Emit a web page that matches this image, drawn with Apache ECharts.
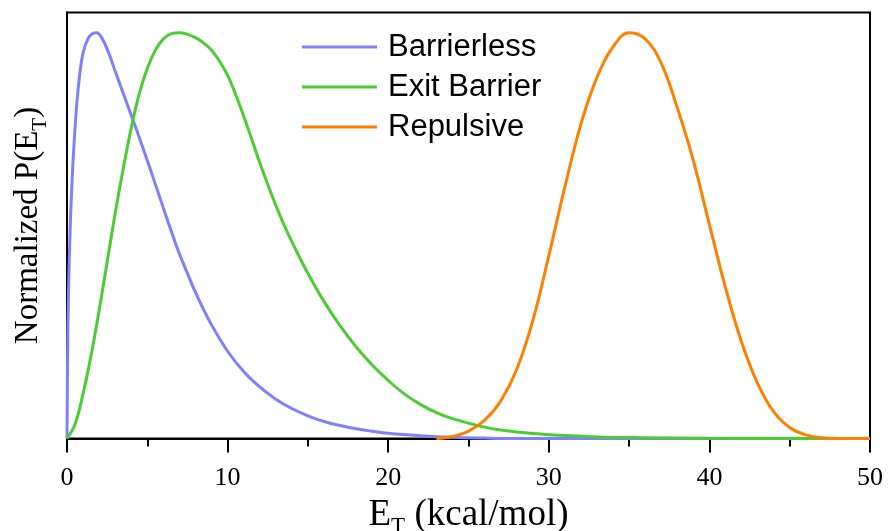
<!DOCTYPE html>
<html>
<head>
<meta charset="utf-8">
<script src="https://cdn.jsdelivr.net/npm/echarts@6/dist/echarts.min.js"></script>
<style>
  html, body { margin: 0; padding: 0; background: #fff; }
  #chart { width: 889px; height: 531px; }
</style>
</head>
<body>
<div id="chart"></div>
<script>
// Translational energy distributions, each normalized to a peak of 1.
var seriesNames = ['Barrierless', 'Exit Barrier', 'Repulsive'];

var barrierlessE = [0, 0.05, 0.1, 0.2, 0.3, 0.4, 0.6, 0.8, 1.0, 1.3, 1.6, 1.85, 2.2, 2.6, 3.0, 3.5, 4.0, 4.5, 5.0, 5.5, 6.0, 6.5, 7.0, 7.5, 8.0, 9.0, 10, 11, 12, 13, 14, 15, 16, 17, 18, 19, 20, 22, 24, 26, 28, 50];
var barrierlessP = [0, 0.25, 0.37, 0.52, 0.62, 0.70, 0.82, 0.90, 0.95, 0.985, 0.998, 1.0, 0.985, 0.95, 0.905, 0.851, 0.797, 0.742, 0.685, 0.627, 0.568, 0.51, 0.455, 0.407, 0.36, 0.28, 0.215, 0.165, 0.127, 0.097, 0.074, 0.056, 0.042, 0.032, 0.024, 0.018, 0.013, 0.007, 0.003, 0.001, 0, 0];

var exitE = [0, 0.5, 1.0, 1.5, 2.0, 2.5, 3.0, 3.5, 4.0, 4.5, 5.0, 5.5, 6.0, 6.5, 7.0, 7.5, 8.0, 8.5, 9.0, 9.5, 10, 10.5, 11, 11.5, 12, 12.5, 13, 13.5, 14, 14.5, 15, 16, 17, 18, 19, 20, 21, 22, 23, 24, 25, 26, 27, 28, 30, 33, 36, 40, 44, 50];
var exitP = [0, 0.035, 0.11, 0.205, 0.315, 0.435, 0.555, 0.665, 0.765, 0.85, 0.912, 0.957, 0.985, 0.998, 1.0, 0.996, 0.988, 0.975, 0.957, 0.93, 0.895, 0.848, 0.795, 0.738, 0.68, 0.626, 0.575, 0.528, 0.485, 0.445, 0.407, 0.338, 0.278, 0.226, 0.181, 0.143, 0.11, 0.084, 0.064, 0.049, 0.038, 0.028, 0.021, 0.016, 0.009, 0.004, 0.002, 0.0005, 0, 0];

var repulsiveE = [23, 24, 25, 26, 27, 28, 29, 30, 31, 32, 33, 34, 35, 36, 37, 38, 39, 40, 41, 42, 43, 44, 45, 46, 47, 48, 50];
var repulsiveP = [0, 0.005, 0.018, 0.045, 0.092, 0.17, 0.29, 0.45, 0.62, 0.775, 0.89, 0.965, 1.0, 0.985, 0.925, 0.815, 0.685, 0.527, 0.372, 0.238, 0.136, 0.066, 0.027, 0.009, 0.002, 0, 0];

var xTicks = [0, 10, 20, 30, 40, 50];

function pairs(xs, ys) {
  return xs.map(function (x, i) { return [x, ys[i]]; });
}

var colors = ['#8080ff', '#4ccc33', '#ff8000'];
var serif = 'Liberation Serif, Times New Roman, serif';
var sans = 'Liberation Sans, Arial, sans-serif';

var chart = echarts.init(document.getElementById('chart'), null, { renderer: 'canvas' });

function lineSeries(name, xs, ys, color) {
  return {
    name: name,
    type: 'line',
    data: pairs(xs, ys),
    smooth: 0.4,
    symbol: 'none',
    showSymbol: false,
    lineStyle: { color: color, width: 3 },
    itemStyle: { color: color },
    animation: false
  };
}

chart.setOption({
  animation: false,
  backgroundColor: '#ffffff',
  grid: {
    left: 67, right: 19, top: 12.5, bottom: 92.5,
    outerBoundsMode: 'none',
    containLabel: false,
    show: true, borderColor: '#000', borderWidth: 2, backgroundColor: 'transparent'
  },
  legend: {
    data: seriesNames,
    orient: 'vertical',
    left: 302,
    top: 27,
    padding: 0,
    itemGap: 0,
    icon: 'rect',
    itemWidth: 75,
    itemHeight: 3,
    textStyle: {
      fontFamily: sans, fontSize: 31, color: '#000', lineHeight: 40,
      padding: [0, 0, 0, 6]
    }
  },
  xAxis: {
    type: 'value',
    min: xTicks[0],
    max: xTicks[xTicks.length - 1],
    interval: 10,
    name: '{e|E}{t|T}{e| (kcal/mol)}',
    nameLocation: 'middle',
    nameGap: 56,
    nameTextStyle: {
      rich: {
        e: { fontFamily: serif, fontSize: 37, color: '#000' },
        t: { fontFamily: serif, fontSize: 23, color: '#000', verticalAlign: 'bottom', padding: [0, 0, -5, 0] }
      }
    },
    axisLine: { show: true, onZero: false, lineStyle: { color: '#000', width: 2 } },
    axisTick: { show: true, inside: false, length: 14, lineStyle: { color: '#000', width: 2 } },
    minorTick: { show: true, splitNumber: 2, length: 8, lineStyle: { color: '#000', width: 2 } },
    splitLine: { show: false },
    minorSplitLine: { show: false },
    axisLabel: { fontFamily: serif, fontSize: 26, color: '#000', margin: 27 }
  },
  yAxis: {
    type: 'value',
    min: 0,
    max: 1.05,
    name: '{e|Normalized P(E}{t|T}{e|)}',
    nameLocation: 'middle',
    nameGap: 22,
    nameRotate: 90,
    nameTextStyle: {
      rich: {
        e: { fontFamily: serif, fontSize: 33, color: '#000' },
        t: { fontFamily: serif, fontSize: 21, color: '#000', verticalAlign: 'bottom', padding: [0, 0, -6, 0] }
      }
    },
    axisLine: { show: true, onZero: false, lineStyle: { color: '#000', width: 2 } },
    axisTick: { show: false },
    axisLabel: { show: false },
    splitLine: { show: false }
  },
  series: [
    lineSeries(seriesNames[0], barrierlessE, barrierlessP, colors[0]),
    lineSeries(seriesNames[1], exitE, exitP, colors[1]),
    lineSeries(seriesNames[2], repulsiveE, repulsiveP, colors[2])
  ]
});
</script>
</body>
</html>
